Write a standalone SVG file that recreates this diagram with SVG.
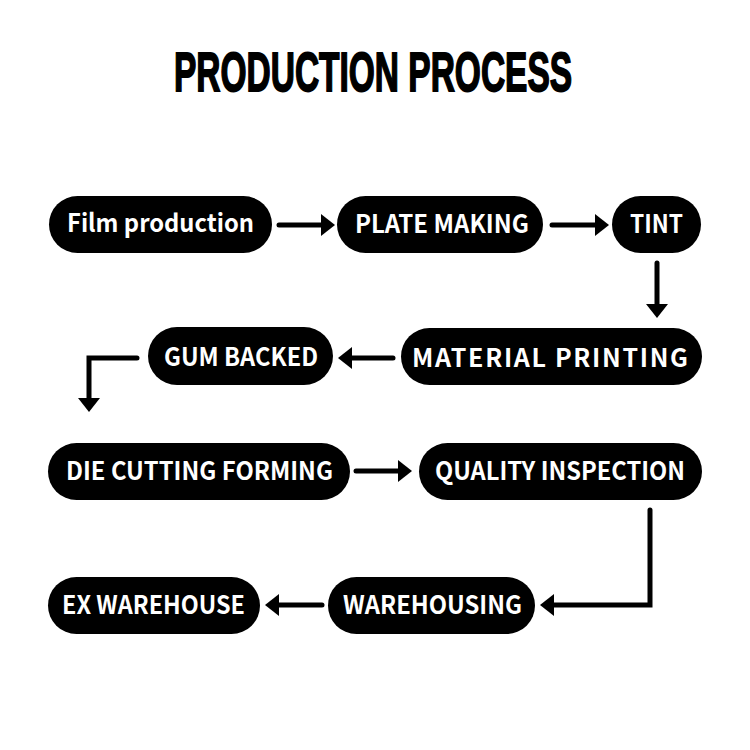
<svg xmlns="http://www.w3.org/2000/svg" width="750" height="750" viewBox="0 0 750 750">
<defs>
<style>
.node rect{fill:#000}
.node text{fill:#fff;font-family:"Noto Sans CJK SC","Noto Sans","Liberation Sans",sans-serif;font-weight:bold;font-size:25px;text-anchor:middle}
.conn path{fill:none;stroke:#000;stroke-width:5;stroke-linecap:round;stroke-linejoin:miter;marker-end:url(#ah)}
.title{font-family:"Liberation Sans",Arial,sans-serif;font-weight:bold;font-size:56px;fill:#000;stroke:#000;stroke-width:1.8}
</style>
<marker id="ah" viewBox="0 -11 14 22" refX="1" refY="0" markerWidth="14" markerHeight="22" markerUnits="userSpaceOnUse" orient="auto">
<path d="M0,-11 L14,0 L0,11 z" fill="#000"/>
</marker>
</defs>
<rect width="750" height="750" fill="#fff"/>
<text class="title" transform="translate(174,91) scale(0.598,1)" x="0" y="0">PRODUCTION PROCESS</text>
<g class="conn">
<path d="M279,225 H322"/>
<path d="M552,225 H596"/>
<path d="M657,263 V305"/>
<path d="M393,358 H351"/>
<path d="M137,358 H89 V399"/>
<path d="M356,471 H399"/>
<path d="M650,510 V605 H553"/>
<path d="M322,605 H278"/>
</g>
<g id="n1" class="node"><rect x="49" y="196" width="223" height="57" rx="28.5"/><text x="160.5" y="232" textLength="187" lengthAdjust="spacingAndGlyphs">Film production</text></g>
<g id="n2" class="node"><rect x="337" y="196" width="206" height="57" rx="28.5"/><text x="442" y="233" textLength="174" lengthAdjust="spacingAndGlyphs">PLATE MAKING</text></g>
<g id="n3" class="node"><rect x="612" y="196" width="89" height="57" rx="28.5"/><text x="656.5" y="233" textLength="53" lengthAdjust="spacingAndGlyphs">TINT</text></g>
<g id="n4" class="node"><rect x="401" y="328" width="301" height="57" rx="28.5"/><text x="550" y="367" textLength="276" lengthAdjust="spacing">MATERIAL PRINTING</text></g>
<g id="n5" class="node"><rect x="148" y="327" width="185" height="58" rx="29"/><text x="241" y="366" textLength="154" lengthAdjust="spacingAndGlyphs">GUM BACKED</text></g>
<g id="n6" class="node"><rect x="48" y="443" width="302" height="57" rx="28.5"/><text x="199.5" y="480" textLength="267" lengthAdjust="spacingAndGlyphs">DIE CUTTING FORMING</text></g>
<g id="n7" class="node"><rect x="419" y="443" width="283" height="57" rx="28.5"/><text x="560" y="480" textLength="250" lengthAdjust="spacingAndGlyphs">QUALITY INSPECTION</text></g>
<g id="n8" class="node"><rect x="328" y="577" width="207" height="57" rx="28.5"/><text x="432.5" y="614" textLength="179" lengthAdjust="spacingAndGlyphs">WAREHOUSING</text></g>
<g id="n9" class="node"><rect x="48" y="577" width="212" height="57" rx="28.5"/><text x="153.5" y="614" textLength="183" lengthAdjust="spacingAndGlyphs">EX WAREHOUSE</text></g>
</svg>
